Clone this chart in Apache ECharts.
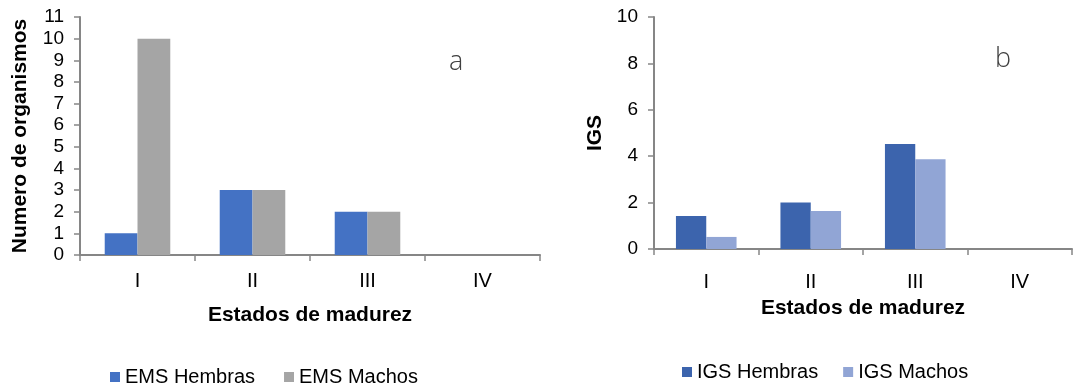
<!DOCTYPE html>
<html>
<head>
<meta charset="utf-8">
<script src="https://cdn.jsdelivr.net/npm/echarts@6/dist/echarts.min.js"></script>
<style>
html,body{margin:0;padding:0;background:#fff;}
#c{width:1076px;height:387px;}
</style>
</head>
<body>
<div id="c"></div>
<script>
const categories = ['I', 'II', 'III', 'IV'];
const emsHembras = [1, 3, 2, 0];
const emsMachos = [10, 3, 2, 0];
const igsHembras = [1.42, 2.0, 4.53, 0];
const igsMachos = [0.52, 1.64, 3.87, 0];
const leftTicks = { min: 0, max: 11, interval: 1 };
const rightTicks = { min: 0, max: 10, interval: 2 };

const FONT = '"Liberation Sans", Arial, sans-serif';
const axisColor = '#868686';
const chart = echarts.init(document.getElementById('c'), null, { renderer: 'canvas' });

function xAxisCfg(gridIndex, margin, nameGap) {
  return {
    type: 'category', gridIndex, data: categories,
    axisLine: { lineStyle: { color: axisColor, width: 2 } },
    axisTick: { show: true, length: 6, lineStyle: { color: axisColor, width: 1.5 } },
    axisLabel: { color: '#000', fontFamily: FONT, fontSize: 20, margin },
    name: 'Estados de madurez', nameLocation: 'middle', nameGap,
    nameTextStyle: { color: '#000', fontFamily: FONT, fontSize: 21, fontWeight: 'bold' }
  };
}
function yAxisCfg(gridIndex, t, name, nameGap) {
  return {
    type: 'value', gridIndex, min: t.min, max: t.max, interval: t.interval,
    axisLine: { show: true, lineStyle: { color: axisColor, width: 2 } },
    axisTick: { show: true, length: 6, lineStyle: { color: axisColor, width: 1.5 } },
    splitLine: { show: false },
    axisLabel: { color: '#000', fontFamily: FONT, fontSize: 19, margin: 16 },
    name, nameLocation: 'middle', nameRotate: 90, nameGap,
    nameTextStyle: { color: '#000', fontFamily: FONT, fontSize: 21, fontWeight: 'bold' }
  };
}

chart.setOption({
  animation: false,
  backgroundColor: '#fff',
  grid: [
    { left: 80, right: 536, top: 17, bottom: 132 },
    { left: 654, right: 4, top: 17, bottom: 138 }
  ],
  xAxis: [xAxisCfg(0, 16, 50), xAxisCfg(1, 23, 49)],
  yAxis: [
    yAxisCfg(0, leftTicks, 'Numero de organismos', 49),
    yAxisCfg(1, rightTicks, 'IGS', 48)
  ],
  legend: [
    { data: ['EMS Hembras', 'EMS Machos'], left: 110, top: 367, padding: 0, icon: 'rect',
      itemWidth: 10, itemHeight: 10, itemGap: 29,
      textStyle: { color: '#000', fontFamily: FONT, fontSize: 20 } },
    { data: ['IGS Hembras', 'IGS Machos'], left: 682, top: 362, padding: 0, icon: 'rect',
      itemWidth: 10, itemHeight: 10, itemGap: 25,
      textStyle: { color: '#000', fontFamily: FONT, fontSize: 20 } }
  ],
  graphic: [
    { type: 'text', left: 449, top: 49, style: { text: 'a', fill: '#404040', font: '300 27px "Open Sans", sans-serif' } },
    { type: 'text', left: 995, top: 46, style: { text: 'b', fill: '#404040', font: '300 27px "Open Sans", sans-serif' } }
  ],
  series: [
    { name: 'EMS Hembras', type: 'bar', xAxisIndex: 0, yAxisIndex: 0, data: emsHembras,
      itemStyle: { color: '#4472C4' }, barGap: '0%', barCategoryGap: '43%' },
    { name: 'EMS Machos', type: 'bar', xAxisIndex: 0, yAxisIndex: 0, data: emsMachos,
      itemStyle: { color: '#A5A5A5' }, barGap: '0%', barCategoryGap: '43%' },
    { name: 'IGS Hembras', type: 'bar', xAxisIndex: 1, yAxisIndex: 1, data: igsHembras,
      itemStyle: { color: '#3C64AD' }, barGap: '0%', barCategoryGap: '42%' },
    { name: 'IGS Machos', type: 'bar', xAxisIndex: 1, yAxisIndex: 1, data: igsMachos,
      itemStyle: { color: '#91A5D5' }, barGap: '0%', barCategoryGap: '42%' }
  ]
});
</script>
</body>
</html>
